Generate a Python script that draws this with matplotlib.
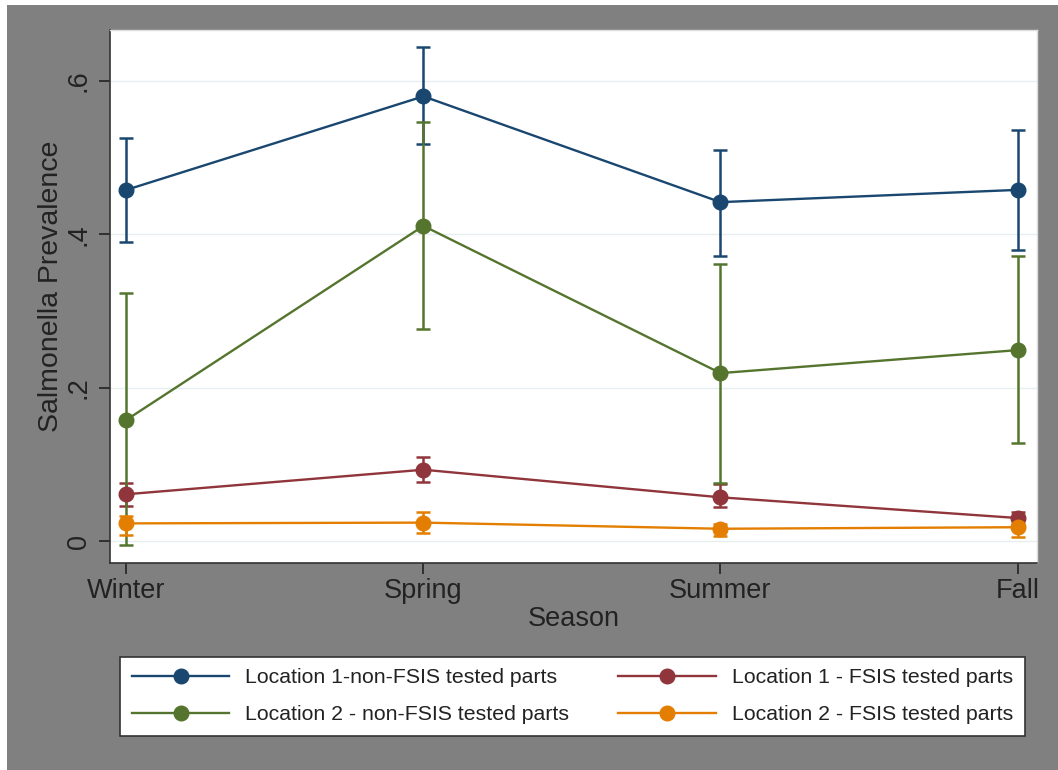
import matplotlib.pyplot as plt
from matplotlib.patches import Rectangle

plt.rcParams['font.family'] = ['Liberation Sans', 'DejaVu Sans']

seasons = ["Winter", "Spring", "Summer", "Fall"]

# prevalence with lower / upper confidence limits
loc1_non = [0.458, 0.580, 0.442, 0.458]
loc1_non_lo = [0.390, 0.518, 0.372, 0.379]
loc1_non_hi = [0.526, 0.644, 0.510, 0.536]

loc1_fsis = [0.061, 0.093, 0.057, 0.030]
loc1_fsis_lo = [0.046, 0.077, 0.044, 0.022]
loc1_fsis_hi = [0.076, 0.110, 0.074, 0.038]

loc2_non = [0.158, 0.411, 0.219, 0.249]
loc2_non_lo = [-0.005, 0.276, 0.076, 0.128]
loc2_non_hi = [0.323, 0.546, 0.361, 0.372]

loc2_fsis = [0.023, 0.024, 0.016, 0.018]
loc2_fsis_lo = [0.008, 0.010, 0.007, 0.005]
loc2_fsis_hi = [0.032, 0.038, 0.022, 0.030]

series = [
    ("Location 1-non-FSIS tested parts", loc1_non, loc1_non_lo, loc1_non_hi, "#1a476f"),
    ("Location 1 - FSIS tested parts", loc1_fsis, loc1_fsis_lo, loc1_fsis_hi, "#90353b"),
    ("Location 2 - non-FSIS tested parts", loc2_non, loc2_non_lo, loc2_non_hi, "#55752f"),
    ("Location 2 - FSIS tested parts", loc2_fsis, loc2_fsis_lo, loc2_fsis_hi, "#e37e00"),
]

grey = "#808080"
fig = plt.figure(figsize=(10.58, 7.70), dpi=100, facecolor="white")
# grey graph region
fig.patches.append(Rectangle((7 / 1058, 0), 1, 765 / 770, transform=fig.transFigure,
                             facecolor=grey, edgecolor="none", zorder=-10))

ax = fig.add_axes([0.104, 0.2688, 0.876, 0.6922])
ax.set_facecolor("white")

xx = list(range(len(seasons)))
handles = {}
for label, y, lo, hi, c in series:
    err = [[v - l for v, l in zip(y, lo)], [h - v for v, h in zip(y, hi)]]
    ax.errorbar(xx, y, yerr=err, fmt="none", ecolor=c, elinewidth=1.8,
                capsize=5, capthick=1.8, zorder=3)
    ln, = ax.plot(xx, y, color=c, lw=1.7, marker="o", markersize=10.5, zorder=4)
    handles[label] = ln

ax.set_xlim(-0.055, 3.065)
ax.set_ylim(-0.0287, 0.6665)
ax.set_xticks(xx)
ax.set_xticklabels(seasons, fontsize=19.5)
ax.set_yticks([0, 0.2, 0.4, 0.6])
ax.set_yticklabels(["0", ".2", ".4", ".6"], fontsize=19.5, rotation=90, va="center")
ax.tick_params(axis="both", length=8, width=1.2, color="#222222", labelcolor="#222222")
ax.tick_params(axis="x", pad=3)
ax.tick_params(axis="y", pad=5)
ax.grid(axis="y", color="#e6eef0", lw=1)
ax.set_axisbelow(True)

for s in ["top", "right"]:
    ax.spines[s].set_color("#dddddd")
    ax.spines[s].set_linewidth(1)
for s in ["left", "bottom"]:
    ax.spines[s].set_color("#333333")
    ax.spines[s].set_linewidth(1.2)

ax.set_xlabel("Season", fontsize=19.5, color="#222222", labelpad=1)
ax.set_ylabel("Salmonella Prevalence", fontsize=20.5, color="#222222")
ax.yaxis.set_label_coords(-0.05, 0.52)

order = [series[0][0], series[2][0], series[1][0], series[3][0]]
leg = fig.legend([handles[k] for k in order], order, ncol=2, loc="lower left",
                 bbox_to_anchor=(0.1134, 0.0442, 0.855, 0.113), bbox_transform=fig.transFigure,
                 mode="expand", fontsize=15.3, handlelength=4.6, handletextpad=0.75,
                 borderpad=0.55, labelspacing=0.85, fancybox=False, framealpha=1,
                 edgecolor="#333333", labelcolor="#222222", borderaxespad=0)
leg.get_frame().set_linewidth(1.2)

plt.savefig("out.png", dpi=100, facecolor=fig.get_facecolor())
